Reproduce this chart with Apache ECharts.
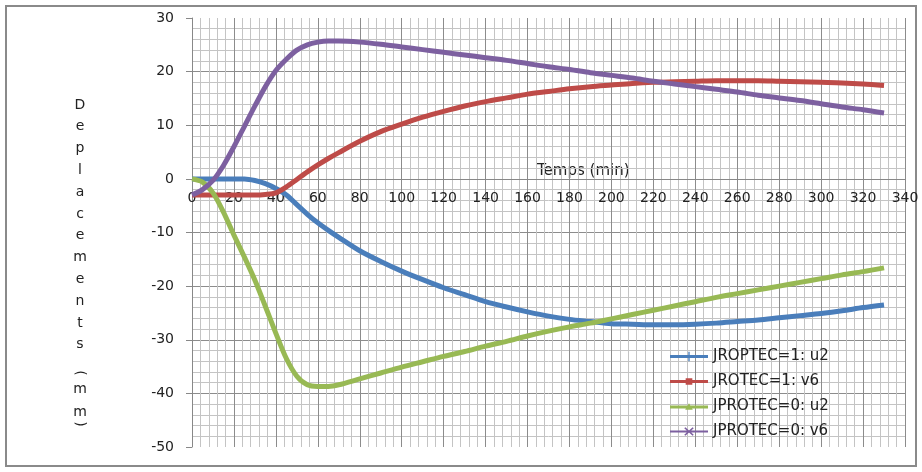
<!DOCTYPE html>
<html>
<head>
<meta charset="utf-8">
<script src="https://cdn.jsdelivr.net/npm/echarts@6/dist/echarts.min.js"></script>
<style>html,body{margin:0;padding:0;background:#fff}#c{width:922px;height:472px}</style>
</head>
<body>
<div id="c"></div>
<script>
var times = [0,5,10,15,20,25,30,35,40,45,50,55,60,65,70,80,90,100,110,120,130,140,150,160,170,180,190,200,210,220,230,240,250,260,270,280,290,300,310,320,330];
var u2_jroptec1 = [0,0,0,0,0,0,-0.3,-0.9,-1.8,-3.0,-4.8,-6.6,-8.2,-9.6,-10.9,-13.4,-15.4,-17.2,-18.8,-20.3,-21.6,-22.9,-23.9,-24.8,-25.6,-26.2,-26.6,-27.0,-27.1,-27.2,-27.2,-27.1,-26.9,-26.6,-26.3,-25.9,-25.5,-25.1,-24.6,-24.0,-23.5];
var v6_jrotec1 = [-3,-3,-3,-3,-3,-3,-3,-2.9,-2.6,-1.5,-0.1,1.3,2.6,3.8,4.9,7.0,8.8,10.2,11.5,12.6,13.6,14.4,15.1,15.8,16.3,16.8,17.2,17.5,17.8,18.0,18.1,18.2,18.3,18.3,18.3,18.2,18.1,18.0,17.9,17.7,17.4];
var u2_jprotec0 = [0,-0.6,-2.6,-6.2,-10.5,-14.6,-18.9,-23.8,-28.8,-33.5,-36.8,-38.4,-38.7,-38.7,-38.4,-37.3,-36.2,-35.1,-34.1,-33.1,-32.2,-31.2,-30.3,-29.3,-28.4,-27.6,-26.9,-26.1,-25.3,-24.5,-23.7,-22.9,-22.1,-21.4,-20.7,-20.0,-19.3,-18.6,-17.9,-17.3,-16.6];
var v6_jprotec0 = [-3,-2,-0.3,2.5,6.0,9.8,13.6,17.2,20.2,22.3,24.0,25.0,25.5,25.7,25.7,25.5,25.1,24.6,24.1,23.6,23.1,22.6,22.1,21.5,20.9,20.4,19.8,19.3,18.8,18.2,17.7,17.2,16.7,16.2,15.6,15.1,14.6,14.0,13.4,12.9,12.3];
var seriesNames = ['JROPTEC=1: u2','JROTEC=1: v6','JPROTEC=0: u2','JPROTEC=0: v6'];
var seriesColors = ['#4A7EBB','#BE4B48','#98B954','#7D60A0'];
var yTitleLetters = ['D','e','p','l','a','c','e','m','e','n','t','s'];

function pairs(vals){ return times.map(function(t,i){ return [t, vals[i]]; }); }
var allVals = [u2_jroptec1, v6_jrotec1, u2_jprotec0, v6_jprotec0];
var legendIcons = [
  'path://M0,3.5h40v3H0z M19.3,0h1.4v10h-1.4z',
  'path://M0,3.5h40v3H0z M16.5,1.5h7v7h-7z',
  'path://M0,3.5h40v3H0z M20,1L24,8H16z',
  'path://M0,4h40v2H0z M15,1.5L16.2,0.5L25,8.5L23.8,9.5Z M23.8,0.5L25,1.5L16.2,9.5L15,8.5Z'
];

var chart = echarts.init(document.getElementById('c'), null, {renderer:'canvas'});
var FONT = 'DejaVu Sans';
var option = {
  animation: false,
  backgroundColor: '#ffffff',
  textStyle: {fontFamily: FONT},
  grid: {left:192, top:18, right:17, bottom:25, containLabel:false, outerBoundsMode:'none'},
  legend: {
    orient:'vertical', left:665, top:344, itemWidth:38, itemHeight:10, itemGap:10,
    textStyle:{fontFamily:FONT, fontSize:15, color:'#222'},
    data: seriesNames.map(function(n,i){ return {name:n, icon:legendIcons[i], itemStyle:{color:seriesColors[i]}}; })
  },
  xAxis: {
    type:'value', min:0, max:340, interval:20,
    offset:-268,
    axisLine:{show:true, onZero:false, lineStyle:{color:'#888', width:1}},
    axisTick:{show:false},
    axisLabel:{fontFamily:FONT, fontSize:14, color:'#222', margin:12},
    splitLine:{show:true, lineStyle:{color:'#8c8c8c', width:1}},
    minorTick:{show:false, splitNumber:5},
    minorSplitLine:{show:true, lineStyle:{color:'#c4c4c4', width:1}}
  },
  yAxis: {
    type:'value', min:-50, max:30, interval:10,
    axisLine:{show:true, lineStyle:{color:'#888', width:1}},
    axisTick:{show:true, length:6, lineStyle:{color:'#888'}},
    axisLabel:{fontFamily:FONT, fontSize:14, color:'#222', margin:18},
    splitLine:{show:true, showMinLine:false, showMaxLine:false, lineStyle:{color:'#8c8c8c', width:1}},
    minorTick:{show:false, splitNumber:5},
    minorSplitLine:{show:true, lineStyle:{color:'#c4c4c4', width:1}}
  },
  series: seriesNames.map(function(n,i){
    return {
      name:n, type:'line', data:pairs(allVals[i]), smooth:0.3,
      symbol:'none', showSymbol:false,
      lineStyle:{color:seriesColors[i], width:5},
      itemStyle:{color:seriesColors[i]},
      z: 3 + (i===3?1:0)
    };
  }),
  graphic: [
    {type:'rect', shape:{x:6, y:6, width:910, height:460}, style:{fill:'none', stroke:'#8a8a8a', lineWidth:2}, silent:true},
    {type:'text', x:537, y:164, style:{text:'Temps (min)', font:'15px "DejaVu Sans"', fill:'#222'}},
    {type:'text', x:80, y:94, style:{text:yTitleLetters.join('\n'), font:'14px "DejaVu Sans"', fill:'#222', align:'center', lineHeight:21.8}},
    {type:'text', x:80, y:373, rotation:-Math.PI/2, style:{text:'(', font:'14px "DejaVu Sans"', fill:'#222', align:'center', verticalAlign:'middle'}},
    {type:'text', x:80, y:378, style:{text:'m\nm', font:'14px "DejaVu Sans"', fill:'#222', align:'center', lineHeight:23}},
    {type:'text', x:80, y:424, rotation:-Math.PI/2, style:{text:')', font:'14px "DejaVu Sans"', fill:'#222', align:'center', verticalAlign:'middle'}}
  ]
};
chart.setOption(option);
</script>
</body>
</html>
